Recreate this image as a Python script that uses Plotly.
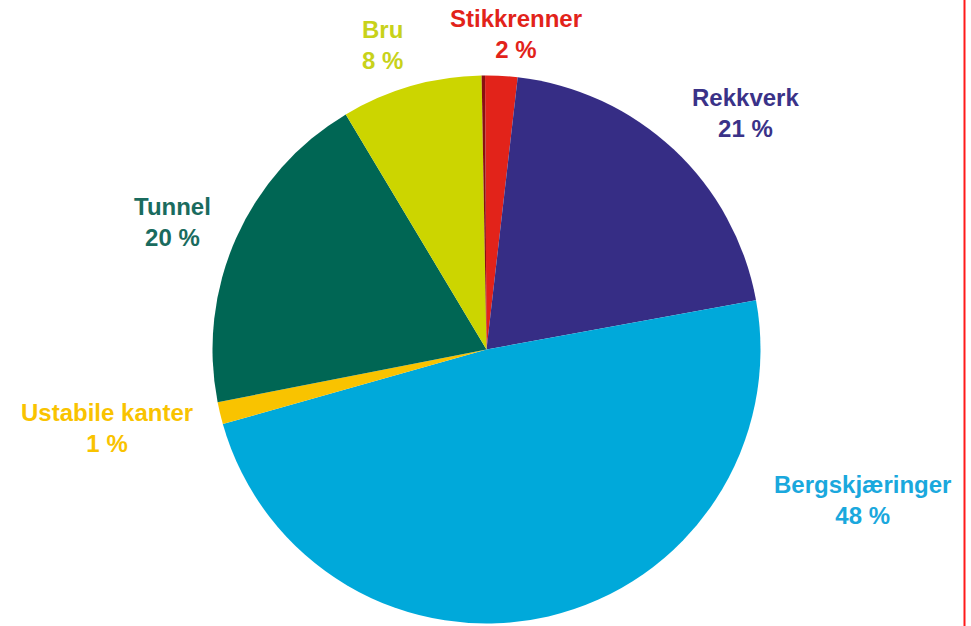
import plotly.graph_objects as go

W, H = 971, 626

categories = ["Stikkrenner", "Rekkverk", "Bergskjæringer", "Ustabile kanter", "Tunnel", "Bru", "Annet"]
values = [1.9, 20.3, 48.5, 1.3, 19.5, 8.3, 0.2]
pct_text = ["2 %", "21 %", "48 %", "1 %", "20 %", "8 %", ""]
colors = ["#e2231a", "#362d85", "#00a9da", "#f9c300", "#006654", "#ccd500", "#8a1010"]
label_colors = ["#e2231a", "#3a3288", "#1aa8dd", "#f9c300", "#1a6b5e", "#c8d21a", None]

# label block centres in pixels (x, y from top)
label_pos = [(516, 34), (745, 113), (862, 500), (107, 428), (172, 222), (382, 45), None]

cx, cy, r = 486.5, 349.5, 274

fig = go.Figure(go.Pie(
    labels=categories,
    values=values,
    marker=dict(colors=colors, line=dict(width=0)),
    sort=False,
    direction="clockwise",
    rotation=-0.3,
    textinfo="none",
    hoverinfo="label+percent",
    showlegend=False,
    domain=dict(x=[(cx - r) / W, (cx + r) / W], y=[1 - (cy + r) / H, 1 - (cy - r) / H]),
))

annotations = []
for cat, pt, col, pos in zip(categories, pct_text, label_colors, label_pos):
    if pos is None:
        continue
    annotations.append(dict(
        x=pos[0] / W, y=1 - pos[1] / H, xref="paper", yref="paper",
        xanchor="center", yanchor="middle", showarrow=False,
        text=f"<b>{cat}<br>{pt}</b>",
        font=dict(family="Liberation Sans, Arial, sans-serif", size=24, color=col),
        align="center",
    ))

fig.update_layout(
    width=W, height=H,
    margin=dict(l=0, r=0, t=0, b=0),
    paper_bgcolor="white",
    plot_bgcolor="white",
    annotations=annotations,
    shapes=[dict(type="line", xref="paper", yref="paper", x0=964.5 / W, x1=964.5 / W, y0=0, y1=1,
                 line=dict(color="#ff1a1a", width=2))],
)

fig.write_html("out.html")
